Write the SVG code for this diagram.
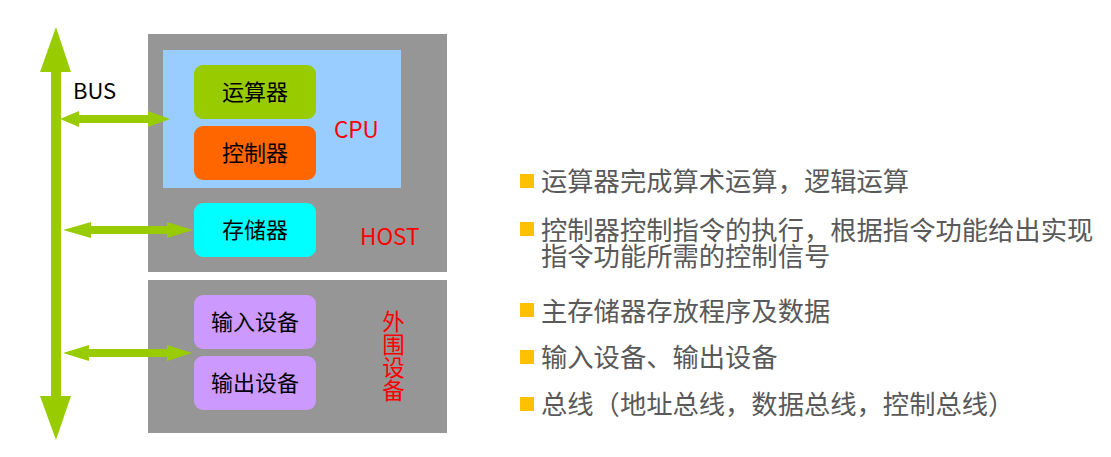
<svg xmlns="http://www.w3.org/2000/svg" width="1111" height="457" viewBox="0 0 1111 457">
<style>
  text { font-family: "Noto Sans CJK SC", "Noto Sans", sans-serif; }
  .panel { fill: #969696; }
  .box-label { font-size: 22px; fill: #000000; text-anchor: middle; }
  .red { fill: #FF0000; font-size: 22.5px; }
  .arrow { fill: #99CC00; }
  .bullet { fill: #FFC000; }
  .item { font-size: 26.3px; fill: #595959; }
</style>
<rect width="1111" height="457" fill="#FFFFFF"/>

<g id="host">
  <rect class="panel" x="148" y="34" width="299" height="238"/>
  <text class="red" x="360" y="245">HOST</text>
</g>
<g id="cpu">
  <rect x="163" y="50" width="238" height="138" fill="#99CCFF"/>
  <text class="red" x="334" y="138">CPU</text>
</g>
<g id="alu">
  <rect x="194" y="65" width="122" height="54" rx="9" fill="#99CC00"/>
  <text class="box-label" x="255" y="100">运算器</text>
</g>
<g id="controller">
  <rect x="194" y="126" width="122" height="54" rx="9" fill="#FF6600"/>
  <text class="box-label" x="255" y="161">控制器</text>
</g>
<g id="memory">
  <rect x="194" y="203" width="122" height="54" rx="9" fill="#00FFFF"/>
  <text class="box-label" x="255" y="238">存储器</text>
</g>
<g id="peripherals">
  <rect class="panel" x="148" y="280" width="299" height="153"/>
  <text class="red" text-anchor="middle"><tspan x="393.5" y="330">外</tspan><tspan x="393.5" y="353">围</tspan><tspan x="393.5" y="376">设</tspan><tspan x="393.5" y="399">备</tspan></text>
</g>
<g id="input">
  <rect x="194" y="295" width="122" height="54" rx="9" fill="#CC99FF"/>
  <text class="box-label" x="255" y="330">输入设备</text>
</g>
<g id="output">
  <rect x="194" y="356" width="122" height="54" rx="9" fill="#CC99FF"/>
  <text class="box-label" x="255" y="391">输出设备</text>
</g>

<g id="connectors">
  <polygon id="bus" class="arrow" points="56,27 71,72 61,72 61,396 71,396 56,440 40,396 51,396 51,72 40,72"/>
  <polygon id="bus-cpu" class="arrow" points="60,119 79,111 79,115 148,115 148,111 170,119 148,127 148,123 79,123 79,127"/>
  <polygon id="bus-memory" class="arrow" points="63,230 91,222 91,226 167,226 167,222 193,230 167,238 167,234 91,234 91,238"/>
  <polygon id="bus-io" class="arrow" points="63,353 89,345 89,349 167,349 167,345 192,353 167,361 167,357 89,357 89,361"/>
</g>
<text id="bus-label" x="73" y="99" font-size="22" fill="#000000">BUS</text>

<g id="notes">
  <rect class="bullet" x="520" y="174" width="14" height="14"/>
  <text class="item" x="541" y="191">运算器完成算术运算，逻辑运算</text>
  <rect class="bullet" x="520" y="222" width="14" height="14"/>
  <text class="item"><tspan x="541" y="240">控制器控制指令的执行，根据指令功能给出实现</tspan><tspan x="541" y="266">指令功能所需的控制信号</tspan></text>
  <rect class="bullet" x="520" y="303" width="14" height="14"/>
  <text class="item" x="541" y="321">主存储器存放程序及数据</text>
  <rect class="bullet" x="520" y="350" width="14" height="14"/>
  <text class="item" x="541" y="367">输入设备、输出设备</text>
  <rect class="bullet" x="520" y="397" width="14" height="14"/>
  <text class="item" x="541" y="414">总线（地址总线，数据总线，控制总线）</text>
</g>
</svg>
